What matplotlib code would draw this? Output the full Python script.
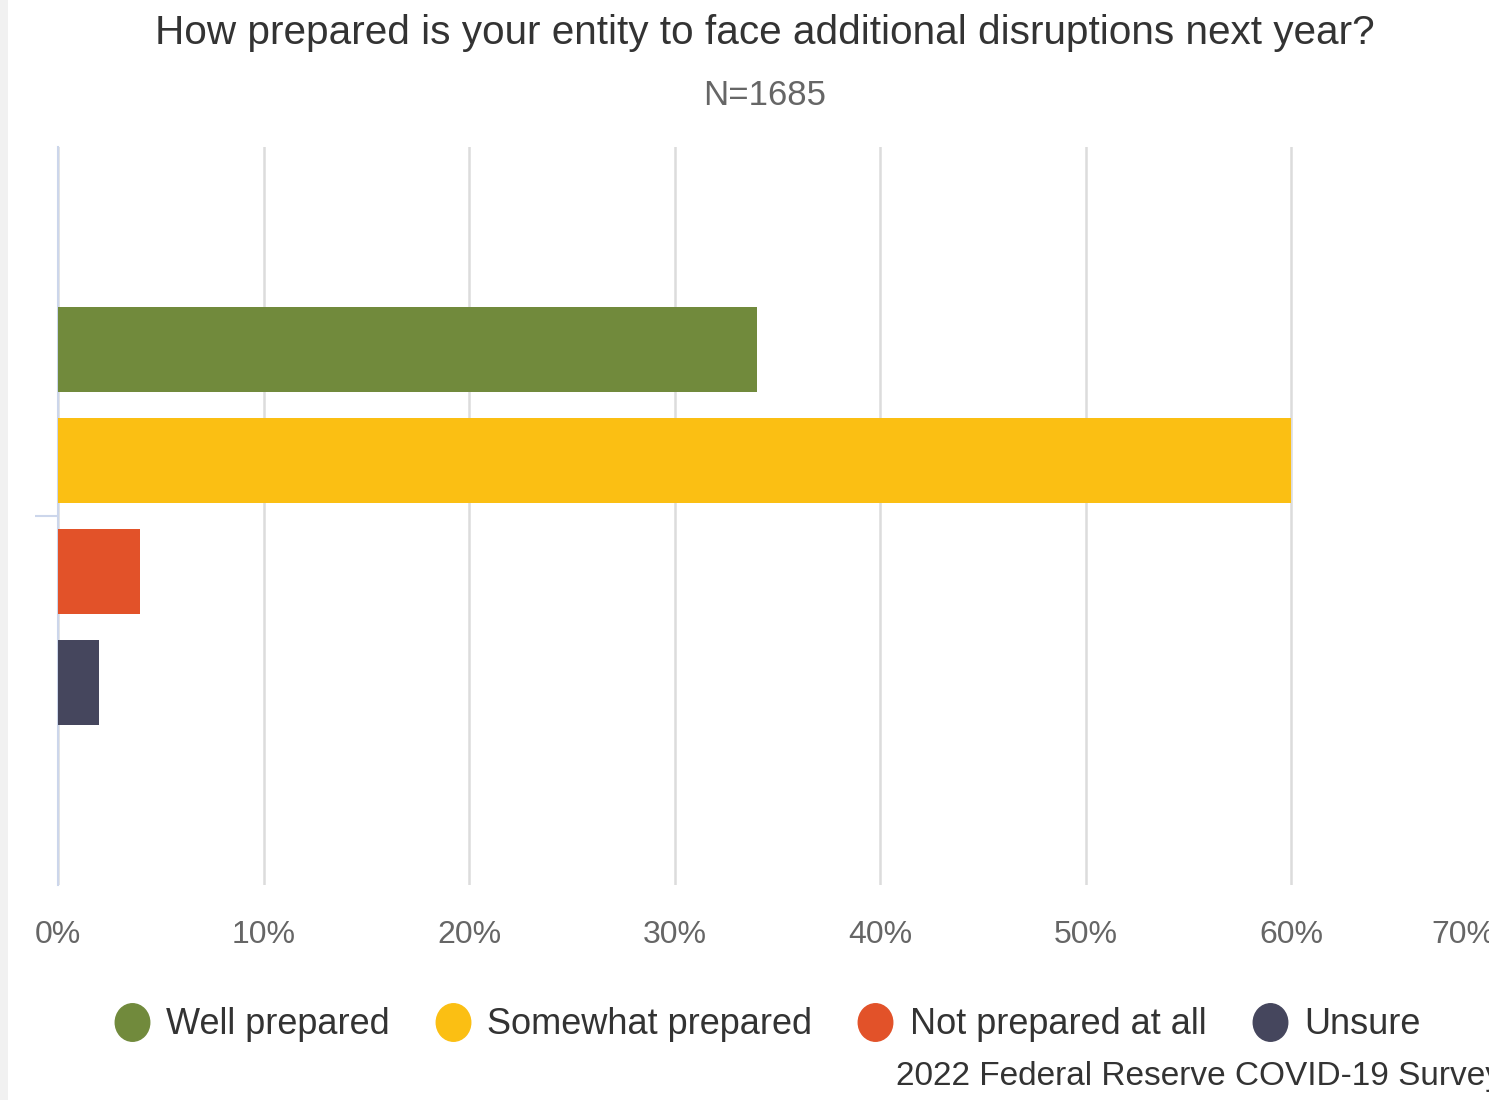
import matplotlib
matplotlib.use("Agg")
import matplotlib.pyplot as plt
from matplotlib.lines import Line2D
from matplotlib.patches import Rectangle
from matplotlib.path import Path
from matplotlib.transforms import Affine2D, ScaledTranslation
from matplotlib.ticker import FuncFormatter

plt.rcParams['font.family'] = ['Liberation Sans', 'DejaVu Sans']

title = "How prepared is your entity to face additional disruptions next year?"
subtitle = "N=1685"
source = "2022 Federal Reserve COVID-19 Survey"
series = ["Well prepared", "Somewhat prepared", "Not prepared at all", "Unsure"]
values = [34, 60, 4, 2]
colors = ["#718a3c", "#fbbf13", "#e25229", "#45465d"]
xticks = [0, 10, 20, 30, 40, 50, 60, 70]

fig = plt.figure(figsize=(14.89, 11.0), dpi=100)
fig.patch.set_facecolor("white")
fig.add_artist(Rectangle((0, 0), 8 / 1489, 1, transform=fig.transFigure,
                         facecolor="#f1f1f1", edgecolor="none", zorder=0))

ax = fig.add_axes([58 / 1489, 1 - 885 / 1100, (1496.5 - 58) / 1489, (885 - 147) / 1100])
ax.set_xlim(0, 70)
ax.set_ylim(0.5, -0.5)

n = len(values)
step = 0.1504
height = 0.1165
for i, (name, v, c) in enumerate(zip(series, values, colors)):
    ax.barh((i - (n - 1) / 2) * step, v, height=height, color=c, label=name, zorder=3)

ax.set_xticks(xticks)
ax.xaxis.set_major_formatter(FuncFormatter(lambda x, p: f"{int(x)}%"))
ax.grid(axis="x", color="#dcdcdc", linewidth=1.8, zorder=0)
ax.tick_params(axis="x", length=0, pad=25, labelsize=23, labelcolor="#666666")
ax.set_yticks([0])
ax.set_yticklabels([""])
ax.tick_params(axis="y", length=16.5, width=1.5, color="#ccd6eb")
for s in ["top", "right", "bottom"]:
    ax.spines[s].set_visible(False)
ax.spines["left"].set_color("#ccd6eb")
ax.spines["left"].set_linewidth(1.5)
ax.set_facecolor("none")

fig.text(765 / 1489, 1 - 33 / 1100, title, ha="center", va="center",
         fontsize=29.2, color="#333333")
fig.text(765 / 1489, 1 - 95 / 1100, subtitle, ha="center", va="center",
         fontsize=25, color="#666666")

ell = Path.unit_circle().transformed(Affine2D().scale(0.92, 1.0))
handles = [Line2D([], [], linestyle="none", marker=ell, markersize=27,
                  markerfacecolor=c, markeredgecolor=c) for c in colors]
fig.legend(handles, series, loc="center", bbox_to_anchor=(767 / 1489, 1 - 1025 / 1100),
           ncol=4, frameon=False, fontsize=26, handlelength=1.0, handletextpad=0.45,
           columnspacing=1.25, labelcolor="#333333")

fig.text(896 / 1489, 1 - 1077 / 1100, source, ha="left", va="center",
         fontsize=24, color="#333333")

# shift the last (overflowing) tick label inward, as in the original chart
fig.canvas.draw()
last = ax.xaxis.get_major_ticks()[-1].label1
last.set_transform(last.get_transform() + ScaledTranslation(-0.33, 0, fig.dpi_scale_trans))

fig.savefig("out.png", dpi=100)
